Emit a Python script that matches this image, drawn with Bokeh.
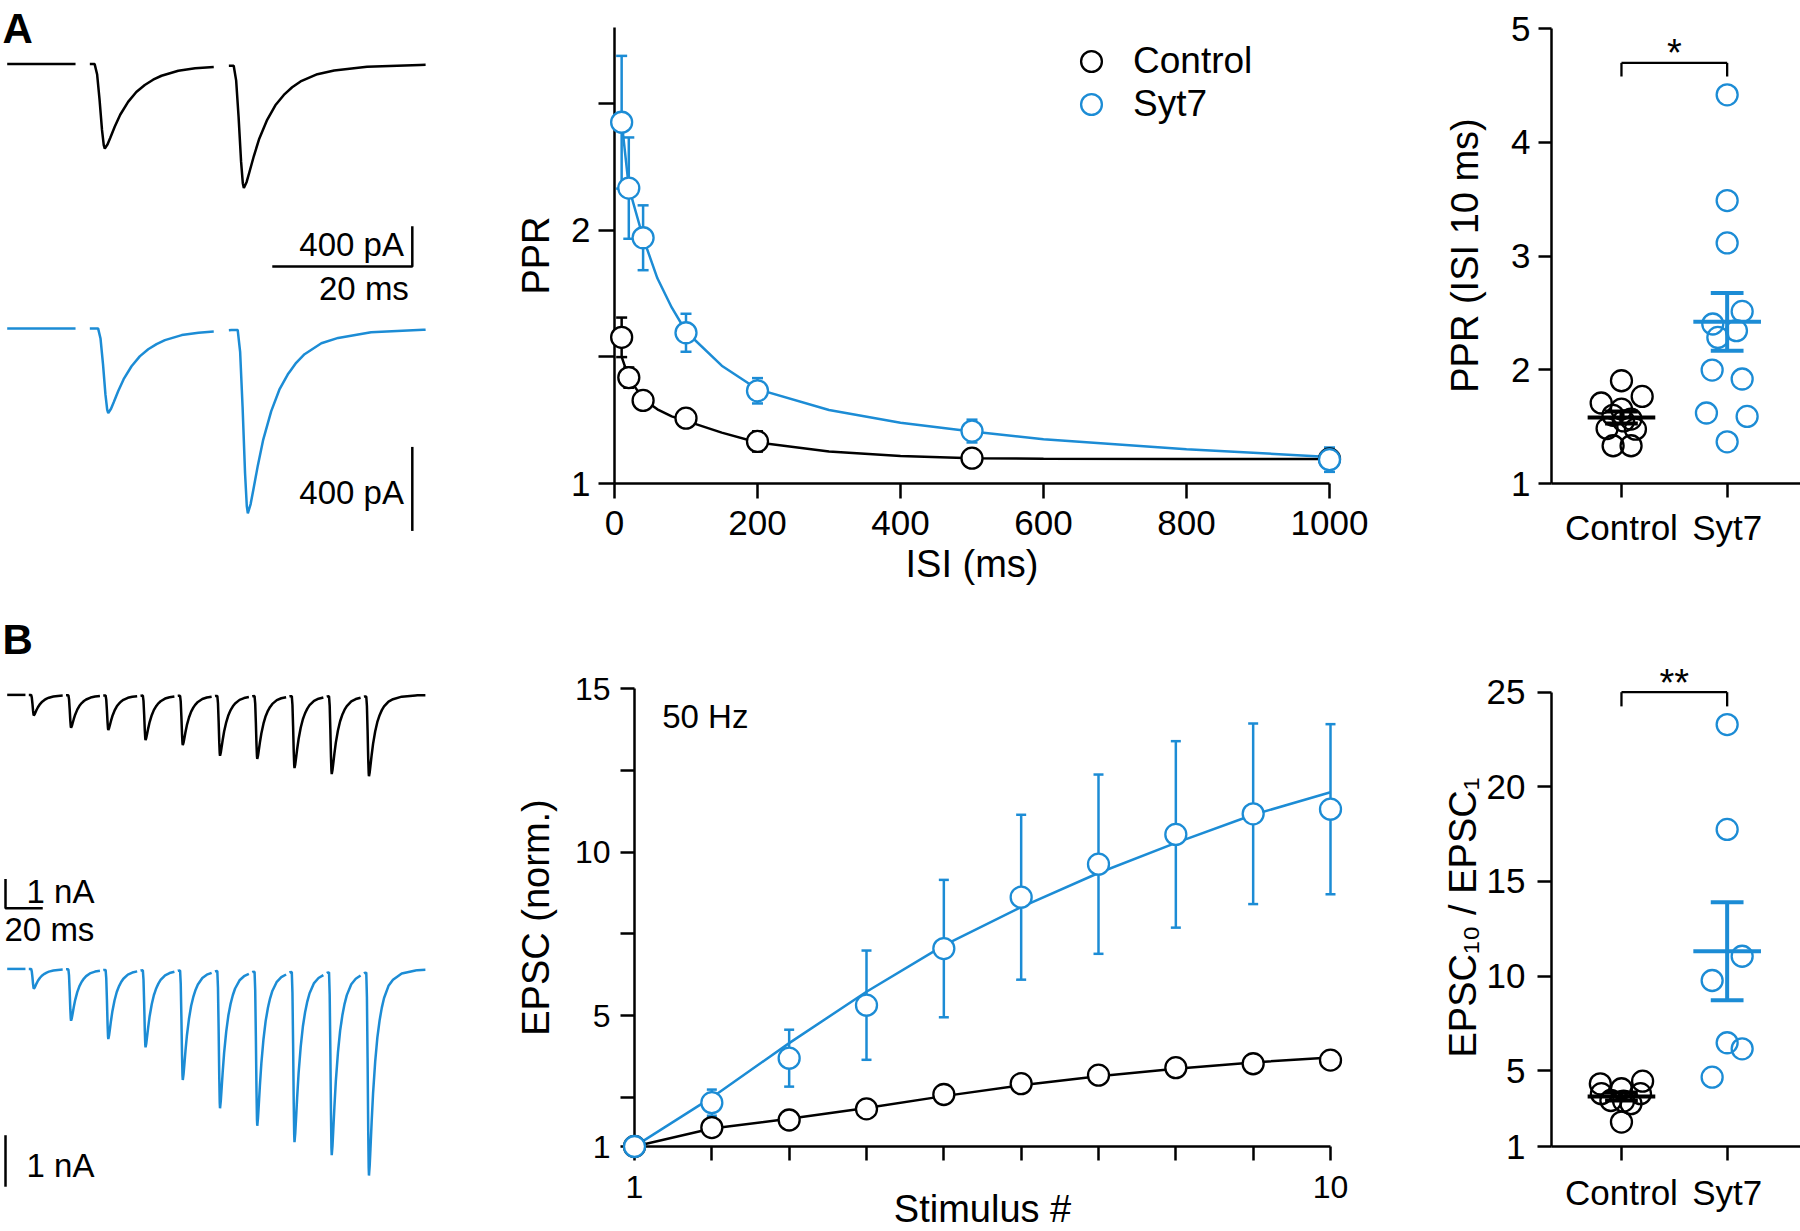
import numpy as np
from bokeh.plotting import figure
from bokeh.models import Range1d, FixedTicker, Legend, LegendItem
from bokeh.layouts import column, row
from bokeh.embed import file_html
from bokeh.resources import INLINE
from bokeh.core.properties import value

FONT = "Liberation Sans"
BLUE = "#1c8cd5"
BLACK = "#000000"

# ---------------- data ----------------
# A middle: paired-pulse ratio vs inter-stimulus interval
ISI_MS = [10, 20, 40, 100, 200, 500, 1000]
PPR_CTRL = [1.577, 1.418, 1.328, 1.258, 1.166, 1.100, 1.097]
PPR_CTRL_SEM = [0.078, 0.040, 0.012, 0.012, 0.040, 0.012, 0.012]
PPR_SYT7 = [2.426, 2.166, 1.970, 1.595, 1.366, 1.207, 1.094]
PPR_SYT7_SEM = [0.262, 0.200, 0.128, 0.075, 0.050, 0.045, 0.048]
FIT_ISI_MS = [10, 20, 40, 60, 80, 100, 150, 200, 300, 400, 500, 600, 800, 1000]
FIT_PPR_CTRL = [1.50, 1.418, 1.333, 1.293, 1.265, 1.247, 1.201, 1.162, 1.126, 1.109, 1.100, 1.098, 1.097, 1.097]
FIT_PPR_SYT7 = [2.43, 2.17, 1.97, 1.81, 1.695, 1.60, 1.465, 1.372, 1.29, 1.24, 1.205, 1.175, 1.135, 1.105]
ISI_TICKS = [0, 200, 400, 600, 800, 1000]
PPR_TICKS = [1, 1.5, 2, 2.5]
PPR_TICK_LABELS = ["1", "", "2", ""]

# A right: PPR at 10 ms ISI, single cells
GROUPS = ["Control", "Syt7"]
PPR10_CTRL = [1.904, 1.766, 1.708, 1.655, 1.600, 1.567, 1.484, 1.478, 1.332, 1.332, 1.550]
PPR10_CTRL_JITTER = [0.0, 0.196, -0.192, 0.0, -0.08, 0.09, -0.136, 0.132, -0.079, 0.091, 0.02]
PPR10_SYT7 = [4.419, 3.489, 3.116, 2.514, 2.403, 2.344, 2.285, 1.998, 1.919, 1.620, 1.590, 1.367]
PPR10_SYT7_JITTER = [0.0, 0.0, 0.0, 0.142, -0.136, 0.088, -0.088, -0.142, 0.142, -0.196, 0.189, 0.0]
PPR10_TICKS = [1, 2, 3, 4, 5]
PPR10_SIG = "*"

# B middle: normalised EPSC amplitude in a 50 Hz train
STIM = [1, 2, 3, 4, 5, 6, 7, 8, 9, 10]
EPSC_CTRL = [1.0, 1.58, 1.81, 2.15, 2.59, 2.92, 3.18, 3.41, 3.53, 3.64]
EPSC_CTRL_SEM = [0.0, 0.05, 0.05, 0.06, 0.07, 0.08, 0.09, 0.10, 0.10, 0.10]
EPSC_SYT7 = [1.0, 2.34, 3.70, 5.32, 7.05, 8.62, 9.63, 10.54, 11.17, 11.31]
EPSC_SYT7_SEM = [0.0, 0.40, 0.87, 1.67, 2.10, 2.52, 2.74, 2.85, 2.76, 2.60]
FIT_EPSC_CTRL = [1.0, 1.55, 1.85, 2.18, 2.54, 2.87, 3.15, 3.38, 3.57, 3.72]
FIT_EPSC_SYT7 = [1.0, 2.50, 4.16, 5.73, 7.15, 8.32, 9.36, 10.28, 11.14, 11.83]
EPSC_YTICKS = [1, 2.5, 5, 7.5, 10, 12.5, 15]
EPSC_YTICK_LABELS = ["1", "", "5", "", "10", "", "15"]
STIM_TICK_LABELS = ["1", "", "", "", "", "", "", "", "", "10"]
TRAIN_LABEL = "50 Hz"

# B right: EPSC10 / EPSC1, single cells
RATIO_CTRL = [4.45, 4.31, 4.05, 3.79, 3.79, 3.43, 3.26, 3.40, 2.29]
RATIO_CTRL_JITTER = [0.2, -0.2, 0.0, -0.19, 0.18, -0.1, 0.09, 0.02, 0.0]
RATIO_SYT7 = [23.29, 17.75, 11.05, 9.77, 6.48, 6.16, 4.66]
RATIO_SYT7_JITTER = [0.0, 0.0, 0.142, -0.142, 0.0, 0.142, -0.142]
RATIO_TICKS = [1, 5, 10, 15, 20, 25]
RATIO_SIG = "**"

# Example traces: EPSC waveform (time from peak, fraction of peak)
EPSC_SHAPE_MS = [-1.45, -1.1, -0.75, -0.4, -0.15, 0.0, 0.4, 0.8, 1.43, 2.2, 3.33, 4.5,
                 5.71, 6.9, 8.1, 10.5, 12.9, 17.6, 26.0, 45.0]
EPSC_SHAPE_FRAC = [0.0, 0.12, 0.42, 0.78, 0.96, 1.0, 0.95, 0.87, 0.74, 0.6, 0.447, 0.33,
                   0.247, 0.185, 0.138, 0.079, 0.05, 0.02, 0.006, 0.0]
# A: paired pulses (20 ms ISI), amplitudes in pA
A_PEAK_MS_CTRL = [13.94, 33.8]
A_PEAK_MS_SYT7 = [14.43, 34.37]
A_AMP_CTRL_PA = [836, 1214]
A_AMP_SYT7_PA = [403, 874]
A_SEGMENTS_MS = [(0.0, 9.76), (11.8, 29.5), (31.66, 59.76)]
# B: 10 stimuli at 50 Hz, amplitudes in nA
B_PEAK_MS = [14.3, 34.3, 54.3, 74.3, 94.3, 114.3, 134.3, 154.3, 174.3, 194.3]
B_AMP_CTRL_NA = [0.70, 1.11, 1.18, 1.52, 1.69, 2.05, 2.15, 2.46, 2.66, 2.73]
B_AMP_SYT7_NA = [0.384, 1.0, 1.346, 1.5, 2.13, 2.67, 3.0, 3.31, 3.56, 3.95]
B_SEGMENTS_MS = [(0.0, 9.8), (11.6, 29.8), (31.6, 49.8), (51.6, 69.8), (71.6, 89.8),
                 (91.6, 109.8), (111.6, 129.8), (131.6, 149.8), (151.6, 169.8),
                 (171.6, 189.8), (191.6, 224.6)]
SCALE_PA = 400
SCALE_NA = 1
SCALE_MS = 20


# ---------------- helpers ----------------
def base_fig(w, h, xr, yr, left=0, right=0, top=0, bottom=0, axes=True):
    kw = {} if axes else dict(x_axis_type=None, y_axis_type=None)
    p = figure(width=w, height=h, x_range=Range1d(*xr), y_range=Range1d(*yr),
               output_backend="svg", toolbar_location=None, title=None,
               min_border_left=left, min_border_right=right,
               min_border_top=top, min_border_bottom=bottom, **kw)
    p.outline_line_color = None
    p.background_fill_color = "white"
    p.border_fill_color = "white"
    if axes:
        p.grid.visible = False
    return p


def style_axis(ax, tick_px, tick_out, standoff, label_px=38, label_standoff=0):
    ax.axis_line_width = 2.5
    ax.axis_line_color = BLACK
    ax.major_tick_line_width = 2.5
    ax.major_tick_line_color = BLACK
    ax.major_tick_in = 0
    ax.major_tick_out = tick_out
    ax.minor_tick_line_color = None
    ax.major_label_text_font = FONT
    ax.major_label_text_font_size = f"{tick_px}px"
    ax.major_label_text_color = BLACK
    ax.major_label_standoff = standoff
    ax.axis_label_text_font = FONT
    ax.axis_label_text_font_size = f"{label_px}px"
    ax.axis_label_text_font_style = "normal"
    ax.axis_label_text_color = BLACK
    ax.axis_label_standoff = label_standoff


def txt(p, x, y, s, align="left", baseline="middle", size=33, style="normal", rng=None):
    kw = {"y_range_name": rng} if rng else {}
    p.text(x=[x], y=[y], text=[s], text_align=align, text_baseline=baseline,
           text_font=value(FONT), text_font_size=f"{size}px", text_font_style=style,
           text_color=BLACK, level="overlay", **kw)


def errbars(p, x, y, sem, color, cap=11):
    lo = [a - b for a, b in zip(y, sem)]
    hi = [a + b for a, b in zip(y, sem)]
    p.segment(x0=x, x1=x, y0=lo, y1=hi, line_color=color, line_width=2.5, level="overlay")
    p.scatter(x + x, lo + hi, marker="dash", size=cap, line_color=color, line_width=2.5,
              level="overlay")


def build_trace(peaks, amps, segments):
    st = np.array(EPSC_SHAPE_MS)
    sf = np.array(EPSC_SHAPE_FRAC)
    xs, ys = [], []
    for s0, s1 in segments:
        ts = {s0, s1}
        for pk in peaks:
            for dt in st:
                t = pk + dt
                if s0 < t < s1:
                    ts.add(float(t))
        ts = np.array(sorted(ts))
        y = np.zeros_like(ts)
        for pk, a in zip(peaks, amps):
            y -= a * np.interp(ts - pk, st, sf, left=0.0, right=0.0)
        xs.append(ts.tolist())
        ys.append(y.tolist())
    return xs, ys


def dot_panel(p, ctrl, ctrl_j, syt, syt_j, sig, sig_y, br_y, br_leg):
    p.scatter([0 + j for j in ctrl_j], ctrl, size=21, marker="circle", line_color=BLACK,
              fill_alpha=0, line_width=2.3, level="overlay")
    p.scatter([1 + j for j in syt_j], syt, size=21, marker="circle", line_color=BLUE,
              fill_alpha=0, line_width=2.3, level="overlay")
    for c, vals, col in ((0, ctrl, BLACK), (1, syt, BLUE)):
        m = float(np.mean(vals))
        s = float(np.std(vals, ddof=1) / np.sqrt(len(vals)))
        p.segment(x0=[c - 0.32, c, c - 0.155, c - 0.155], x1=[c + 0.32, c, c + 0.155, c + 0.155],
                  y0=[m, m - s, m - s, m + s], y1=[m, m + s, m - s, m + s],
                  line_color=col, line_width=4, level="overlay")
    p.segment(x0=[0, 0, 1], x1=[1, 0, 1], y0=[br_y, br_y, br_y], y1=[br_y, br_leg, br_leg],
              line_color=BLACK, line_width=2.3, level="overlay")
    txt(p, 0.5, sig_y, sig, align="center", baseline="alphabetic", size=38)
    p.xaxis.ticker = FixedTicker(ticks=[0, 1])
    p.xaxis.major_label_overrides = {0: GROUPS[0], 1: GROUPS[1]}


# row A frames: top 27, bottom 483 (page px); row B frames: top 688, bottom 1146
A_TOP, A_BOT = 27, 117
B_TOP, B_BOT = 88, 85

# ---------------- A left: traces ----------------
a1 = base_fig(480, 600, (-0.957, 67.6), (-4152.5, 362.4), top=A_TOP, bottom=A_BOT, axes=False)
a1.extra_y_ranges = {"blue": Range1d(-738.5, 1432.9)}
xs, ys = build_trace(A_PEAK_MS_CTRL, A_AMP_CTRL_PA, A_SEGMENTS_MS)
a1.multi_line(xs, ys, line_color=BLACK, line_width=2.5, level="overlay")
xs, ys = build_trace(A_PEAK_MS_SYT7, A_AMP_SYT7_PA, A_SEGMENTS_MS)
a1.multi_line(xs, ys, line_color=BLUE, line_width=2.5, y_range_name="blue", level="overlay")
bx, by = 57.86, -2005
a1.multi_line([[bx - SCALE_MS, bx, bx]], [[by, by, by + SCALE_PA]], line_color=BLACK,
              line_width=2.5, level="overlay")
a1.multi_line([[bx, bx]], [[-964.3, -964.3 + SCALE_PA]], line_color=BLACK, line_width=2.5,
              y_range_name="blue", level="overlay")
txt(a1, 56.66, -1784, f"{SCALE_PA} pA", align="right")
txt(a1, 57.37, -2217, f"{SCALE_MS} ms", align="right")
txt(a1, 56.66, -781.4, f"{SCALE_PA} pA", align="right", rng="blue")
txt(a1, -0.67, 353.0, "A", baseline="alphabetic", size=42, style="bold")

# ---------------- A middle: PPR vs ISI ----------------
a2 = base_fig(940, 600, (0, 1000), (1, 2.80), left=134, right=91, top=A_TOP, bottom=A_BOT)
style_axis(a2.xaxis[0], 35, 15, 12, label_standoff=5)
style_axis(a2.yaxis[0], 35, 16, 8, label_standoff=11)
a2.xaxis.axis_label = "ISI (ms)"
a2.yaxis.axis_label = "PPR"
a2.xaxis.ticker = FixedTicker(ticks=ISI_TICKS)
a2.yaxis.ticker = FixedTicker(ticks=PPR_TICKS)
a2.yaxis.major_label_overrides = dict(zip(PPR_TICKS, PPR_TICK_LABELS))
a2.line(FIT_ISI_MS, FIT_PPR_CTRL, line_color=BLACK, line_width=2.5)
a2.line(FIT_ISI_MS, FIT_PPR_SYT7, line_color=BLUE, line_width=2.5)
errbars(a2, ISI_MS, PPR_CTRL, PPR_CTRL_SEM, BLACK)
errbars(a2, ISI_MS, PPR_SYT7, PPR_SYT7_SEM, BLUE)
r_c = a2.scatter(ISI_MS, PPR_CTRL, size=21, marker="circle", line_color=BLACK, fill_color="white",
                 line_width=2.3, level="overlay")
r_s = a2.scatter(ISI_MS, PPR_SYT7, size=21, marker="circle", line_color=BLUE, fill_color="white",
                 line_width=2.3, level="overlay")
for rend, lab, loc in ((r_c, GROUPS[0], (451, 396)), (r_s, GROUPS[1], (451, 353))):
    lg = Legend(items=[LegendItem(label=lab, renderers=[rend])], location=loc,
                orientation="vertical", glyph_width=52, glyph_height=52, padding=0, margin=0,
                label_standoff=16, label_text_font=FONT, label_text_font_size="37px",
                label_text_color=BLACK, border_line_color=None, background_fill_alpha=0)
    a2.add_layout(lg)

# ---------------- A right: PPR at 10 ms ----------------
a3 = base_fig(380, 600, (-0.662, 1.694), (1, 5.011), left=131, right=0, top=A_TOP, bottom=A_BOT)
style_axis(a3.xaxis[0], 35, 14, 10)
style_axis(a3.yaxis[0], 35, 13, 8, label_standoff=22)
a3.yaxis.bounds = (1, 5)
a3.yaxis.axis_label = "PPR (ISI 10 ms)"
a3.yaxis.ticker = FixedTicker(ticks=PPR10_TICKS)
dot_panel(a3, PPR10_CTRL, PPR10_CTRL_JITTER, PPR10_SYT7, PPR10_SYT7_JITTER,
          PPR10_SIG, 4.79, 4.70, 4.58)

# ---------------- B left: traces ----------------
b1 = base_fig(480, 631, (-3.6, 254.2), (-15.413, 0.218), top=B_TOP, bottom=B_BOT, axes=False)
b1.extra_y_ranges = {"blue": Range1d(-3.448, 5.445)}
xs, ys = build_trace(B_PEAK_MS, B_AMP_CTRL_NA, B_SEGMENTS_MS)
b1.multi_line(xs, ys, line_color=BLACK, line_width=2.5, level="overlay")
xs, ys = build_trace(B_PEAK_MS, B_AMP_SYT7_NA, B_SEGMENTS_MS)
b1.multi_line(xs, ys, line_color=BLUE, line_width=2.5, y_range_name="blue", level="overlay")
sx, sy = -0.91, -7.283
b1.multi_line([[sx, sx, sx + SCALE_MS]], [[sy + SCALE_NA, sy, sy]], line_color=BLACK,
              line_width=2.5, level="overlay")
b1.multi_line([[sx, sx]], [[-4.229, -4.229 + SCALE_NA]], line_color=BLACK, line_width=2.5,
              y_range_name="blue", level="overlay")
txt(b1, 10.4, -6.71, f"{SCALE_NA} nA")
txt(b1, -1.45, -8.007, f"{SCALE_MS} ms")
txt(b1, 10.4, -3.808, f"{SCALE_NA} nA", rng="blue")
txt(b1, -2.52, 1.905, "B", baseline="alphabetic", size=42, style="bold")

# ---------------- B middle: train ----------------
b2 = base_fig(940, 631, (1, 10), (1, 15), left=154, right=90, top=B_TOP, bottom=B_BOT)
style_axis(b2.xaxis[0], 32, 14, 15)
style_axis(b2.yaxis[0], 32, 14, 10, label_standoff=15)
b2.yaxis.axis_label = "EPSC (norm.)"
b2.xaxis.ticker = FixedTicker(ticks=STIM)
b2.xaxis.major_label_overrides = dict(zip(STIM, STIM_TICK_LABELS))
b2.yaxis.ticker = FixedTicker(ticks=EPSC_YTICKS)
b2.yaxis.major_label_overrides = dict(zip(EPSC_YTICKS, EPSC_YTICK_LABELS))
b2.line(STIM, FIT_EPSC_CTRL, line_color=BLACK, line_width=2.5)
b2.line(STIM, FIT_EPSC_SYT7, line_color=BLUE, line_width=2.5)
errbars(b2, STIM, EPSC_CTRL, EPSC_CTRL_SEM, BLACK, cap=10)
errbars(b2, STIM, EPSC_SYT7, EPSC_SYT7_SEM, BLUE, cap=10)
b2.scatter(STIM, EPSC_CTRL, size=21, marker="circle", line_color=BLACK, fill_color="white",
           line_width=2.3, level="overlay")
b2.scatter(STIM, EPSC_SYT7, size=21, marker="circle", line_color=BLUE, fill_color="white",
           line_width=2.3, level="overlay")
txt(b2, 1.358, 14.15, TRAIN_LABEL)
txt(b2, 5.5, -0.911, "Stimulus #", align="center", size=38)

# ---------------- B right: EPSC10/EPSC1 ----------------
b3 = base_fig(380, 631, (-0.662, 1.694), (1, 25.195), left=131, right=0, top=B_TOP, bottom=B_BOT)
style_axis(b3.xaxis[0], 35, 14, 12)
style_axis(b3.yaxis[0], 35, 14, 12, label_standoff=0)
b3.yaxis.bounds = (1, 25)
b3.yaxis.axis_label = "EPSC\u2081\u2080 / EPSC\u2081"
b3.yaxis.ticker = FixedTicker(ticks=RATIO_TICKS)
dot_panel(b3, RATIO_CTRL, RATIO_CTRL_JITTER, RATIO_SYT7, RATIO_SYT7_JITTER,
          RATIO_SIG, 25.5, 25.0, 24.25)

layout = column(row(a1, a2, a3, spacing=0), row(b1, b2, b3, spacing=0), spacing=0)
open("out.html", "w").write(file_html(layout, INLINE))
